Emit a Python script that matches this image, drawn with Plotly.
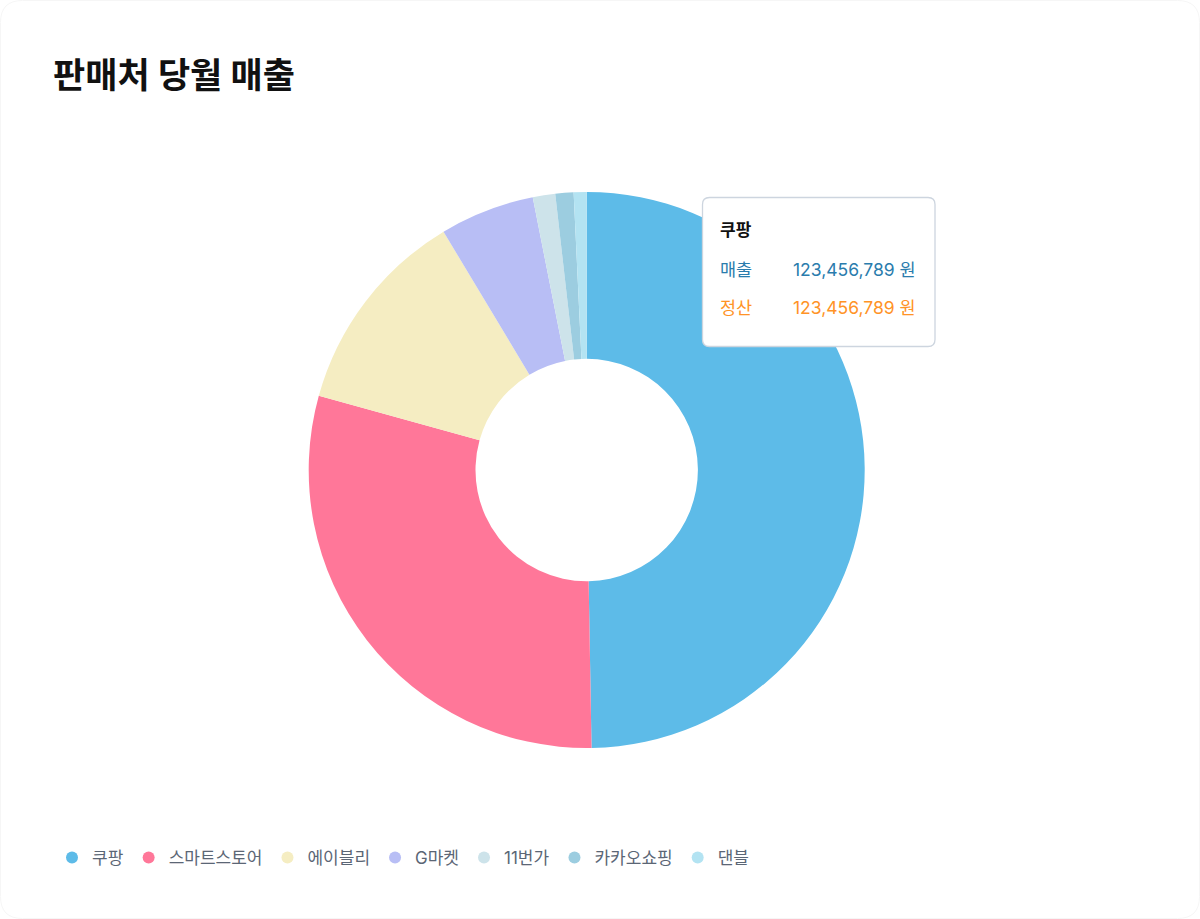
import plotly.graph_objects as go

# ---- data ----
channels = ["쿠팡", "스마트스토어", "에이블리", "G마켓", "11번가", "카카오쇼핑", "댄블"]
sales = [123456789, 73453000, 30002000, 13656000, 3242000, 2621000, 1862000]
colors = ["#5DBBE8", "#FF7799", "#F5EDC2", "#B8BEF5", "#CDE3EA", "#9CCDE0", "#B3E3F2"]

tip_title = "쿠팡"
tip_rows = [("매출", "123,456,789 원", "#2A7CAD"), ("정산", "123,456,789 원", "#FF9326")]

W, H = 1200, 919
FONT = "Inter, 'Noto Sans CJK KR', sans-serif"


def px(x):
    return x / W


def py(y):
    return 1 - y / H


def rounded_rect(x0, y0, x1, y1, r):
    pts = [
        f"M {px(x0 + r)} {py(y0)}",
        f"L {px(x1 - r)} {py(y0)}",
        f"Q {px(x1)} {py(y0)} {px(x1)} {py(y0 + r)}",
        f"L {px(x1)} {py(y1 - r)}",
        f"Q {px(x1)} {py(y1)} {px(x1 - r)} {py(y1)}",
        f"L {px(x0 + r)} {py(y1)}",
        f"Q {px(x0)} {py(y1)} {px(x0)} {py(y1 - r)}",
        f"L {px(x0)} {py(y0 + r)}",
        f"Q {px(x0)} {py(y0)} {px(x0 + r)} {py(y0)}",
        "Z",
    ]
    return " ".join(pts)


cx, cy, R = 586.7, 470, 278

fig = go.Figure()
fig.add_trace(go.Pie(
    labels=channels,
    values=sales,
    marker=dict(colors=colors, line=dict(width=0)),
    hole=0.4,
    sort=False,
    direction="clockwise",
    rotation=0,
    textinfo="none",
    hoverinfo="none",
    showlegend=False,
    domain=dict(x=[px(cx - R), px(cx + R)], y=[py(cy + R), py(cy - R)]),
))

# legend entries with circle markers
for name, col in zip(channels, colors):
    fig.add_trace(go.Scatter(
        x=[None], y=[None], mode="markers", name=name,
        marker=dict(color=col, size=12, symbol="circle"),
        hoverinfo="skip",
    ))

shapes = [
    dict(type="path", xref="paper", yref="paper",
         path=rounded_rect(0.5, 0.5, W - 0.5, H - 0.5, 22),
         line=dict(color="#F6F6F6", width=1), fillcolor="rgba(0,0,0,0)", layer="below"),
    dict(type="path", xref="paper", yref="paper",
         path=rounded_rect(702.5, 197.5, 935, 346.5, 7),
         line=dict(color="#CDD5DF", width=1.3), fillcolor="#FFFFFF", layer="above"),
]

annotations = [
    dict(text="<b>판매처 당월 매출</b>", x=px(51), y=py(75), xref="paper", yref="paper",
         xanchor="left", yanchor="middle", showarrow=False,
         font=dict(family=FONT, size=35, color="#111111")),
    dict(text="<b>" + tip_title + "</b>", x=px(718), y=py(230), xref="paper", yref="paper",
         xanchor="left", yanchor="middle", showarrow=False,
         font=dict(family=FONT, size=17, color="#111111")),
]
for i, (lab, val, col) in enumerate(tip_rows):
    yy = 269 + i * 38.5
    annotations.append(dict(text=lab, x=px(718), y=py(yy), xref="paper", yref="paper",
                            xanchor="left", yanchor="middle", showarrow=False,
                            font=dict(family=FONT, size=17.5, color=col)))
    annotations.append(dict(text=val, x=px(918), y=py(yy), xref="paper", yref="paper",
                            xanchor="right", yanchor="middle", showarrow=False,
                            font=dict(family=FONT, size=17.5, color=col)))

fig.update_layout(
    width=W, height=H,
    margin=dict(l=0, r=0, t=0, b=0),
    paper_bgcolor="#FFFFFF",
    plot_bgcolor="#FFFFFF",
    xaxis=dict(visible=False),
    yaxis=dict(visible=False),
    shapes=shapes,
    annotations=annotations,
    showlegend=True,
    legend=dict(
        orientation="h", x=px(52), y=py(858), xanchor="left", yanchor="middle",
        font=dict(family=FONT, size=17, color="#5B6675"),
        bgcolor="rgba(0,0,0,0)", itemclick=False, itemdoubleclick=False,
    ),
    hovermode=False,
)

fig.write_html("out.html", config={"displayModeBar": False})
